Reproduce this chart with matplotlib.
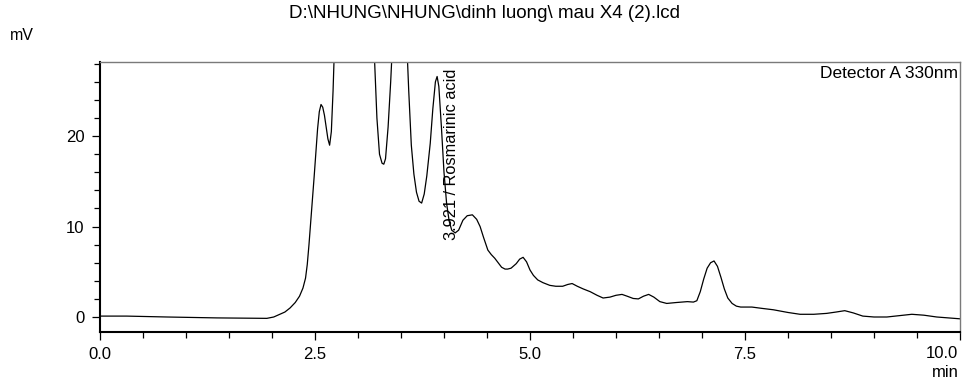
import matplotlib
matplotlib.use("Agg")
import matplotlib.pyplot as plt
from matplotlib.ticker import MultipleLocator

plt.rcParams["font.family"] = ["Liberation Sans", "DejaVu Sans"]

# chromatogram trace (min, mV); the two big peaks run off-scale
time_min = [0.00, 0.31, 0.55, 0.78, 1.10, 1.36, 1.65, 1.94, 2.02, 2.09, 2.15, 2.21,
            2.27, 2.32, 2.36, 2.39, 2.41, 2.43, 2.45, 2.47, 2.49, 2.51, 2.53, 2.55,
            2.57, 2.59, 2.61, 2.63, 2.65, 2.67, 2.69, 2.71, 2.73, 2.76, 2.80, 2.90,
            2.95, 3.00, 3.10, 3.16, 3.19, 3.22, 3.25, 3.28, 3.30, 3.32, 3.35, 3.38,
            3.41, 3.45, 3.49, 3.53, 3.56, 3.59, 3.62, 3.65, 3.68, 3.71, 3.74, 3.77,
            3.80, 3.84, 3.87, 3.90, 3.92, 3.94, 3.97, 4.00, 4.03, 4.06, 4.09, 4.13,
            4.17, 4.22, 4.27, 4.33, 4.38, 4.42, 4.46, 4.51, 4.55, 4.59, 4.63, 4.67,
            4.71, 4.74, 4.78, 4.84, 4.88, 4.92, 4.96, 5.00, 5.04, 5.09, 5.15, 5.23,
            5.30, 5.38, 5.44, 5.49, 5.55, 5.62, 5.70, 5.78, 5.85, 5.93, 6.00, 6.07,
            6.13, 6.20, 6.26, 6.32, 6.38, 6.44, 6.51, 6.59, 6.70, 6.83, 6.90, 6.94,
            6.98, 7.02, 7.06, 7.10, 7.14, 7.18, 7.22, 7.26, 7.30, 7.35, 7.40, 7.45,
            7.58, 7.70, 7.83, 8.00, 8.14, 8.30, 8.45, 8.56, 8.66, 8.76, 8.87, 9.00,
            9.15, 9.30, 9.44, 9.58, 9.73, 9.87, 10.00]
signal_mv = [0.10, 0.10, 0.05, 0.00, -0.05, -0.10, -0.12, -0.15, 0.00, 0.30, 0.55, 1.00,
             1.60, 2.30, 3.20, 4.30, 5.80, 8.00, 10.5, 13.0, 15.5, 18.2, 20.8, 22.7,
             23.5, 23.2, 22.3, 21.0, 19.7, 19.0, 20.5, 25.0, 31.0, 40.0, 50.0, 70.0,
             75.0, 72.0, 55.0, 36.0, 29.0, 22.0, 18.0, 17.0, 16.9, 17.5, 21.0, 26.0,
             32.0, 45.0, 50.0, 42.0, 32.0, 25.0, 19.0, 15.8, 13.8, 12.8, 12.6, 13.6,
             15.6, 19.2, 23.0, 26.0, 26.6, 25.5, 21.0, 16.0, 12.6, 10.6, 9.6, 9.3,
             9.6, 10.7, 11.2, 11.3, 10.8, 10.0, 8.8, 7.4, 6.9, 6.5, 6.0, 5.5,
             5.3, 5.3, 5.4, 5.9, 6.4, 6.6, 6.1, 5.2, 4.6, 4.1, 3.8, 3.5,
             3.4, 3.4, 3.6, 3.7, 3.4, 3.1, 2.8, 2.4, 2.1, 2.2, 2.4, 2.5,
             2.3, 2.05, 2.0, 2.3, 2.5, 2.2, 1.7, 1.5, 1.6, 1.7, 1.65, 1.8,
             2.8, 4.2, 5.4, 6.0, 6.2, 5.6, 4.4, 3.1, 2.1, 1.5, 1.2, 1.1,
             1.1, 0.95, 0.8, 0.5, 0.3, 0.3, 0.4, 0.55, 0.7, 0.45, 0.1, 0.0,
             0.0, 0.15, 0.3, 0.2, 0.0, -0.1, -0.2]

x_ticks = [0.0, 2.5, 5.0, 7.5, 10.0]
peak_time = 3.921
peak_label = "3.921 / Rosmarinic acid"

fig = plt.figure(figsize=(9.69, 3.89), dpi=100)
ax = fig.add_axes([0.1032, 0.1465, 0.8875, 0.6941])

ax.plot(time_min, signal_mv, color="black", lw=0.9)
ax.set_xlim(0, 10)
ax.set_ylim(-1.66, 28.2)

# last x label is drawn separately so it can sit flush with the right edge
ax.set_xticks(x_ticks, [f"{v:.1f}" for v in x_ticks[:-1]] + [""])
ax.xaxis.set_minor_locator(MultipleLocator(0.5))
ax.yaxis.set_major_locator(MultipleLocator(10))
ax.yaxis.set_minor_locator(MultipleLocator(2))
ax.tick_params(which="major", length=6, width=0.9, labelsize=12, direction="out", pad=5)
ax.tick_params(which="minor", length=4, width=0.9, direction="out")
ax.text(9.975, -0.05, f"{x_ticks[-1]:.1f}", transform=ax.get_xaxis_transform(),
        ha="right", va="top", fontsize=12)

for s in ("left", "bottom"):
    ax.spines[s].set_linewidth(1.5)
for s in ("top", "right"):
    ax.spines[s].set_color("#7a7a7a")
    ax.spines[s].set_linewidth(1.0)

ax.text(peak_time + 0.17, 8.5, peak_label, rotation=90, ha="center", va="bottom",
        fontsize=11.8)
ax.text(0.998, 0.985, "Detector A 330nm", transform=ax.transAxes, ha="right",
        va="top", fontsize=12.5)

fig.text(0.5, 0.966, r"D:\NHUNG\NHUNG\dinh luong\ mau X4 (2).lcd", ha="center",
         va="center", fontsize=13.5)
fig.text(0.010, 0.91, "mV", ha="left", va="center", fontsize=11.5)
fig.text(0.989, 0.043, "min", ha="right", va="center", fontsize=12)

fig.savefig("out.png", dpi=100)
